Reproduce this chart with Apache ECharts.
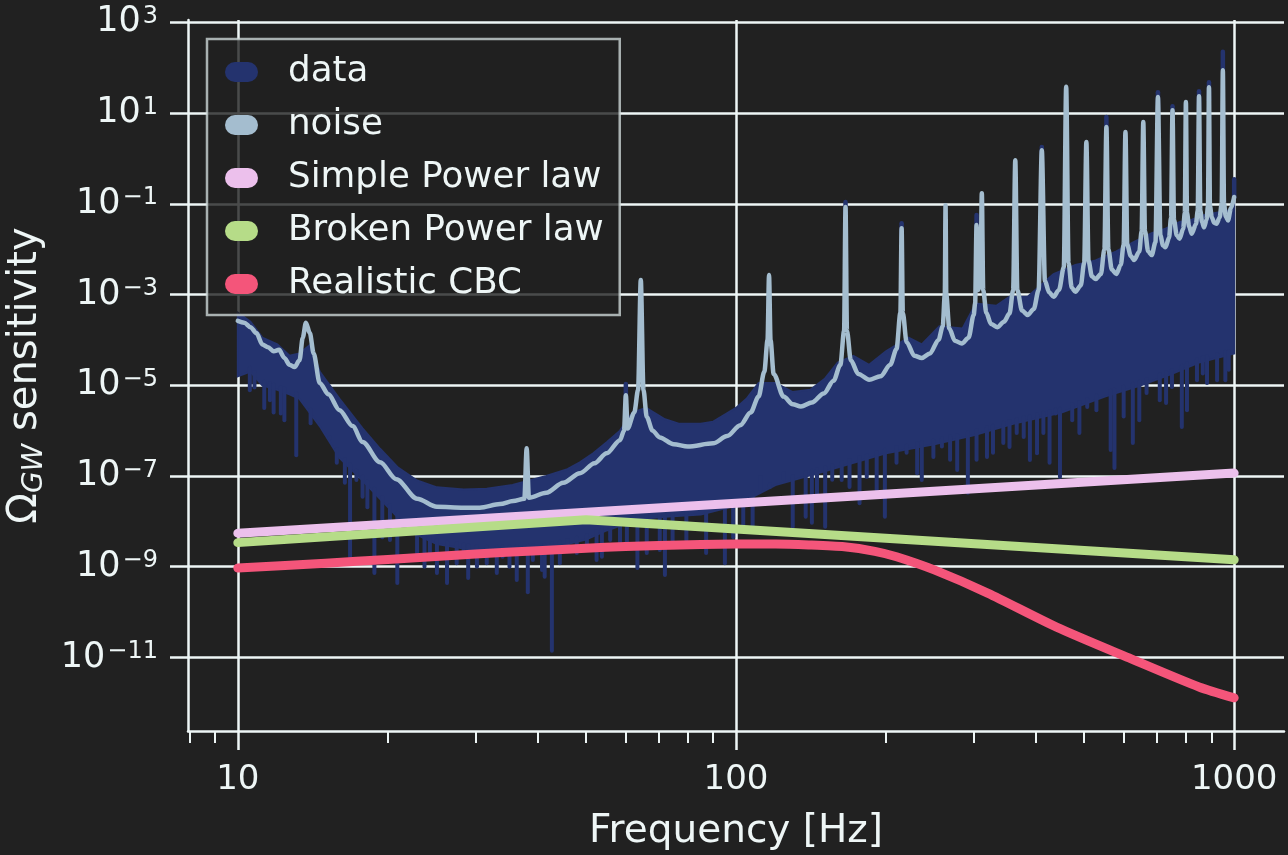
<!DOCTYPE html>
<html>
<head>
<meta charset="utf-8">
<script src="https://cdn.jsdelivr.net/npm/echarts@6/dist/echarts.min.js"></script>
<style>
html,body{margin:0;padding:0;background:#212121;}
#c{width:1288px;height:855px;}
</style>
</head>
<body>
<div id="c"></div>
<script>
// ---------------- values ----------------
// x tick marks (Hz)
const xMajorTicks = [10, 100, 1000];
const xTickLabels = ['10', '100', '1000'];
const xMinorTicks = [8, 9, 20, 30, 40, 50, 60, 70, 80, 90, 200, 300, 400, 500, 600, 700, 800, 900];
// y tick exponents (Omega = 10^e)
const yTickExponents = [-11, -9, -7, -5, -3, -1, 1, 3];

// noise curve (light blue)
const noiseFreq = [10.0,10.3,10.6,10.9,11.2,11.5,11.8,12.1,12.4,12.7,13.0,13.3,13.5,13.7,13.95,14.2,14.6,15.2,16.0,17.0,17.8,19.3,20.8,22.9,25.1,28.4,30.6,33.6,35.7,37.6,38.0,38.4,41.6,45.0,48.6,52.0,55.0,58.5,59.6,60.1,60.6,62.5,63.6,64.4,65.2,66.2,68.0,70.3,75.0,80.0,90.0,96.0,102,107,111,114,115.7,116.5,117.3,119,124.6,130,135,142,150,157,162,164.8,165.9,167,170,176,185,195,204,210,213.8,215,216.2,220,228,236,245,255,260,262.5,263.4,264.3,268,275,284,293,300,302,304,306.5,309.5,311.5,313.5,318,325,335,345,354,360,363.6,367,375,385,396,405,411,417,425,434,445,455,460,465,472,480,492,500,505,510,518,527,540,549,554,559,568,580,592,600,605,610,620,630,645,652,657,662,672,683,695,703,711,720,728,740,747,752,757,767,777,790,796,800,804,812,822,838,845,850,855,862,870,880,886,890,894,902,912,922,935,944,949,954,962,972,985,1000];
const noiseVal = [2.63e-4,2.40e-4,1.91e-4,1.41e-4,7.94e-5,6.92e-5,5.62e-5,6.03e-5,3.98e-5,2.82e-5,2.51e-5,3.55e-5,1.12e-4,2.40e-4,1.41e-4,5.01e-5,1.12e-5,6.31e-6,2.82e-6,1.26e-6,5.62e-7,2.00e-7,8.51e-8,3.16e-8,2.09e-8,2.00e-8,2.00e-8,2.40e-8,2.82e-8,3.16e-8,4.07e-7,3.31e-8,4.27e-8,7.08e-8,1.15e-7,1.91e-7,3.16e-7,6.17e-7,1.00e-6,6.03e-6,1.12e-6,2.51e-6,7.94e-6,2.09e-3,7.94e-6,2.00e-6,1.00e-6,7.08e-7,5.01e-7,4.47e-7,5.25e-7,7.59e-7,1.32e-6,2.51e-6,5.62e-6,2.00e-5,1.00e-4,2.69e-3,1.00e-4,1.78e-5,5.62e-6,3.80e-6,3.39e-6,4.17e-6,6.61e-6,1.26e-5,2.82e-5,1.58e-4,8.51e-2,1.58e-4,3.55e-5,1.78e-5,1.32e-5,1.58e-5,2.82e-5,6.31e-5,3.98e-4,2.88e-2,3.98e-4,8.91e-5,4.47e-5,3.98e-5,5.01e-5,1.00e-4,2.00e-4,1.00e-3,9.33e-2,1.00e-3,1.78e-4,9.55e-5,8.32e-5,1.12e-4,3.55e-4,6.31e-4,3.39e-2,1.26e-3,2.00e-3,1.70e-1,1.26e-3,3.98e-4,2.24e-4,1.91e-4,2.51e-4,3.80e-4,1.26e-3,9.12e-1,1.26e-3,4.47e-4,3.55e-4,4.79e-4,1.26e-3,1.51,2.00e-3,1.12e-3,8.91e-4,1.26e-3,3.98e-3,38.0,5.01e-3,1.41e-3,1.15e-3,1.58e-3,5.01e-3,2.29,5.62e-3,2.51e-3,2.19e-3,2.82e-3,1.00e-2,4.90,1.00e-2,3.55e-3,2.82e-3,4.47e-3,1.26e-2,3.80,1.26e-2,7.08e-3,5.75e-3,8.91e-3,2.51e-2,6.31,2.51e-2,8.91e-3,7.41e-3,1.41e-2,22.4,2.00e-2,1.20e-2,1.10e-2,1.78e-2,5.01e-2,11.5,4.47e-2,2.00e-2,1.70e-2,2.82e-2,6.31e-2,17.4,6.31e-2,3.16e-2,2.19e-2,3.55e-2,7.08e-2,23.4,7.08e-2,3.98e-2,3.02e-2,4.47e-2,8.91e-2,37.2,8.91e-2,5.01e-2,3.80e-2,3.63e-2,5.01e-2,1.00e-1,87.1,1.00e-1,5.25e-2,4.27e-2,7.94e-2,1.41e-1];

// data (dark blue): upper and lower edge of the dense band
const dataHighFreq = [10.0,10.6,11.2,12.0,12.7,13.3,14.0,14.6,16.0,17.8,19.3,20.9,22.9,25.1,28.4,31.6,35.6,41.6,45.9,48.6,51.7,55.1,58.5,62,66,72,77,85,90,95,100,105,111,120,130,141,151,160,172,185,200,222,236,256,285,303,333,354,385,434,480,527,580,627,683,728,778,822,869,922,972,1000];
const dataHighVal = [3.98e-4,2.51e-4,1.12e-4,7.94e-5,4.47e-5,5.01e-5,7.94e-5,2.00e-5,5.01e-6,1.12e-6,3.98e-7,1.58e-7,7.94e-8,5.62e-8,5.01e-8,5.25e-8,6.31e-8,1.00e-7,1.41e-7,2.00e-7,3.16e-7,5.62e-7,1.00e-6,2.51e-6,3.16e-6,1.78e-6,1.41e-6,1.41e-6,1.58e-6,2.24e-6,3.16e-6,5.01e-6,1.12e-5,1.12e-5,7.08e-6,7.94e-6,1.41e-5,3.16e-5,4.47e-5,2.82e-5,5.62e-5,1.12e-4,7.94e-5,2.00e-4,1.78e-4,6.31e-4,5.62e-4,8.91e-4,8.91e-4,2.82e-3,4.47e-3,5.62e-3,8.91e-3,1.41e-2,2.24e-2,2.82e-2,3.98e-2,4.47e-2,5.62e-2,6.31e-2,7.08e-2,1.00e-1];
const dataLowFreq = [10.0,10.6,11.2,12.0,12.7,13.3,14.6,16.0,17.8,19.3,20.9,22.9,25.1,28.4,31.6,35.6,41.6,45.9,50,55,58.5,63.4,72,85,100,120,150,200,250,300,360,450,550,650,750,850,1000];
const dataLowVal = [1.58e-5,2.00e-5,1.00e-5,7.94e-6,6.31e-6,5.01e-6,1.26e-6,2.51e-7,7.94e-8,3.16e-8,1.26e-8,5.01e-9,3.16e-9,2.51e-9,2.24e-9,2.24e-9,2.51e-9,3.16e-9,3.98e-9,6.31e-9,7.94e-9,1.12e-8,1.26e-8,1.41e-8,2.24e-8,6.31e-8,1.26e-7,3.16e-7,5.01e-7,7.94e-7,1.41e-6,2.51e-6,5.62e-6,1.00e-5,1.78e-5,3.16e-5,5.01e-5];
// data: downward spikes below the band
const dipFreq = [10.57,10.8,11.3,11.6,11.8,12.2,12.4,13.1,14.0,15.3,15.8,16.4,16.8,17.3,17.8,18.2,18.8,19.5,20.2,20.9,21.8,22.9,23.7,24.3,25.1,26.3,27.5,28.4,29.0,30.2,31.6,33.1,34.0,35.1,36.3,38.2,39.1,40.8,41.3,42.7,44.3,45.9,47.9,50.2,52.5,53.8,55.9,58.5,60.4,63.4,66.2,70.3,72,74.6,79.5,87.1,95,98.7,103.4,108,112,117,124.6,130,138,142,145.4,151,156,163,169,177,183,191.6,199,210,220,231,236,249,259,269,278,292,304,319,328,344,354,366,378,389,402,414,426,438,447,473,489,507,529,565,575,600,626,645,667,709,730,750,785,804,842,865,882,924,960,975];
const dipVal = [7.76e-6,8.91e-6,3.16e-6,4.68e-6,2.51e-6,2.40e-6,1.70e-6,2.88e-7,1.45e-6,7.24e-7,1.95e-7,7.08e-8,1.66e-9,8.13e-8,3.47e-8,2.04e-8,7.24e-10,4.47e-9,3.89e-9,4.37e-10,5.50e-9,2.00e-9,1.00e-9,2.00e-9,7.24e-10,4.37e-10,1.20e-9,1.66e-9,5.62e-10,1.00e-9,1.20e-9,7.24e-10,1.66e-9,1.00e-9,5.13e-10,2.75e-10,1.41e-9,8.51e-10,6.03e-10,1.41e-11,1.20e-9,2.75e-9,2.00e-9,3.31e-9,1.41e-9,1.66e-9,3.89e-9,3.31e-9,2.75e-9,9.33e-10,2.00e-9,2.34e-9,6.61e-10,2.75e-9,3.89e-9,2.00e-9,1.20e-9,4.47e-9,6.46e-9,7.59e-9,9.55e-8,5.75e-8,1.15e-7,7.59e-9,1.26e-8,9.33e-9,3.02e-8,7.59e-9,8.32e-8,8.13e-8,5.75e-8,2.51e-8,9.55e-8,5.01e-8,1.26e-8,1.95e-7,3.24e-7,1.15e-7,8.13e-8,2.63e-7,4.47e-7,2.29e-7,1.35e-7,4.27e-8,2.29e-7,2.63e-7,3.24e-7,5.37e-7,4.37e-7,8.91e-7,7.24e-7,2.24e-7,3.16e-7,8.91e-7,1.95e-7,2.40e-6,9.55e-8,1.70e-6,8.91e-7,3.31e-6,2.82e-6,3.72e-7,1.51e-7,2.04e-6,5.37e-7,1.70e-6,6.76e-6,4.68e-6,4.07e-6,9.12e-6,1.20e-6,2.82e-6,1.29e-5,1.82e-5,1.12e-5,1.29e-5,1.29e-5,2.19e-5];
// data: tops of the line peaks that rise above the noise peaks
const tipFreq = [60.1,165.9,215,304,411,554,703,752,850,890,949,1000];
const tipVal = [1.07e-5,1.10e-1,3.72e-2,5.62e-2,1.78,8.13,28.8,14.1,30.2,47.9,224,3.47e-1];

// model curves
const simpleFreq = [10, 100, 1000];
const simpleVal = [5.5e-9, 2.5e-8, 1.16e-7];
const brokenFreq = [10, 50, 1000];
const brokenVal = [3.4e-9, 1.08e-8, 1.42e-9];
const cbcFreq = [10,15,20,30,40,50,60,70,85,100,120,140,165,190,210,250,320,440,615,850,1000];
const cbcVal = [9.33e-10,1.20e-9,1.45e-9,1.91e-9,2.26e-9,2.57e-9,2.79e-9,2.95e-9,3.09e-9,3.16e-9,3.16e-9,3.02e-9,2.75e-9,2.19e-9,1.66e-9,8.51e-10,2.63e-10,4.68e-11,9.77e-12,2.24e-12,1.29e-12];

// ---------------- chart ----------------
const C = {
  bg: '#212121', fg: '#eef6f6',
  data: '#24336e', noise: '#a4bdcf', simple: '#ecc0ec', broken: '#b6dc88', cbc: '#f4557a'
};
const lg = Math.log10;
const toPts = (fs, vs) => fs.map((f, i) => [lg(f), lg(vs[i])]);
const highPts = toPts(dataHighFreq, dataHighVal);
const lowPts = toPts(dataLowFreq, dataLowVal);

function edgeAt(pts, x) {
  if (x <= pts[0][0]) return pts[0][1];
  for (let i = 1; i < pts.length; i++) {
    if (x <= pts[i][0]) {
      const t = (x - pts[i - 1][0]) / (pts[i][0] - pts[i - 1][0]);
      return pts[i - 1][1] + t * (pts[i][1] - pts[i - 1][1]);
    }
  }
  return pts[pts.length - 1][1];
}

const capsule = 'path://M10 0 L23 0 A10 10 0 0 1 23 20 L10 20 A10 10 0 0 1 10 0 Z';
const FONT = 'DejaVu Sans';

const chart = echarts.init(document.getElementById('c'), null, { renderer: 'canvas' });
chart.setOption({
  animation: false,
  backgroundColor: C.bg,
  textStyle: { fontFamily: FONT, color: C.fg },
  grid: { left: 188, right: 4, top: 20, bottom: 124, containLabel: false, outerBoundsMode: 'none' },
  legend: {
    orient: 'vertical', left: 207, top: 39,
    padding: [15, 16, 13, 18], itemGap: 17, itemWidth: 33, itemHeight: 20,
    icon: capsule, selectedMode: false,
    backgroundColor: 'rgba(33,33,33,0.8)',
    borderColor: 'rgba(204,214,214,0.8)', borderWidth: 2.5, borderRadius: 0,
    textStyle: { color: C.fg, fontSize: 35.7, fontFamily: FONT, lineHeight: 34, padding: [0, 0, 0, 25] },
    data: [
      { name: 'data', itemStyle: { color: C.data } },
      { name: 'noise', itemStyle: { color: C.noise } },
      { name: 'Simple Power law', itemStyle: { color: C.simple } },
      { name: 'Broken Power law', itemStyle: { color: C.broken } },
      { name: 'Realistic CBC', itemStyle: { color: C.cbc } }
    ]
  },
  xAxis: [
    {
      type: 'value', min: 0.9, max: 3.1, position: 'bottom',
      name: 'Frequency [Hz]', nameLocation: 'middle', nameGap: 79,
      nameTextStyle: { fontSize: 39, color: C.fg, fontFamily: FONT, lineHeight: 44 },
      axisLine: { show: true, onZero: false, lineStyle: { color: C.fg, width: 2.5 } },
      axisTick: { show: true, length: 19, lineStyle: { color: C.fg, width: 2.5 }, customValues: xMajorTicks.map(lg) },
      axisLabel: {
        show: true, color: C.fg, fontSize: 34, fontFamily: FONT, lineHeight: 34, margin: 32,
        customValues: xMajorTicks.map(lg),
        formatter: v => xTickLabels[xMajorTicks.findIndex(t => Math.abs(lg(t) - v) < 1e-6)] || ''
      },
      splitLine: { show: true, lineStyle: { color: C.fg, width: 2.5 } }
    },
    {
      type: 'value', min: 0.9, max: 3.1, position: 'bottom',
      axisLine: { show: false, onZero: false },
      axisTick: { show: true, length: 12, lineStyle: { color: C.fg, width: 2 }, customValues: xMinorTicks.map(lg) },
      axisLabel: { show: false },
      splitLine: { show: false }
    }
  ],
  yAxis: {
    type: 'value', min: -12.62, max: 3.05,
    name: '{t|Ω}{sub|GW}{t| sensitivity}', nameLocation: 'middle', nameGap: 139, nameRotate: 90,
    nameTextStyle: {
      color: C.fg, fontFamily: FONT,
      rich: {
        t: { fontSize: 40, lineHeight: 46, color: C.fg, fontFamily: FONT },
        sub: { fontSize: 28, lineHeight: 26, verticalAlign: 'bottom', fontStyle: 'italic', color: C.fg, fontFamily: FONT }
      }
    },
    axisLine: { show: true, onZero: false, lineStyle: { color: C.fg, width: 2.5 } },
    axisTick: { show: true, length: 18, lineStyle: { color: C.fg, width: 2.5 }, customValues: yTickExponents },
    axisLabel: {
      show: true, margin: 30, customValues: yTickExponents,
      formatter: v => {
        const e = Math.round(v);
        return '{b|10}{s|' + (e < 0 ? '\u2212' + Math.abs(e) : String(e)) + '}';
      },
      rich: {
        b: { fontSize: 35, lineHeight: 35, color: C.fg, fontFamily: FONT },
        s: { fontSize: 24, lineHeight: 19, verticalAlign: 'top', color: C.fg, fontFamily: FONT, padding: [0, 0, 0, 2] }
      }
    },
    splitLine: { show: true, lineStyle: { color: C.fg, width: 2.5 } }
  },
  series: [
    {
      name: 'data', type: 'custom', clip: true, encode: { x: 0, y: 1 },
      data: highPts,
      renderItem: (params, api) => {
        if (params.dataIndex !== 0) return null;
        const pts = highPts.map(p => api.coord(p)).concat(lowPts.slice().reverse().map(p => api.coord(p)));
        return { type: 'polygon', shape: { points: pts }, style: { fill: C.data, stroke: C.data, lineWidth: 2 } };
      }
    },
    {
      name: 'data', type: 'custom', clip: true, encode: { x: 0, y: 1 },
      data: toPts(dipFreq, dipVal),
      renderItem: (params, api) => {
        const x = api.value(0), y = api.value(1);
        const p = api.coord([x, y]);
        const q = api.coord([x, edgeAt(lowPts, x)]);
        return { type: 'line', shape: { x1: p[0], y1: q[1] - 4, x2: p[0], y2: p[1] }, style: { stroke: C.data, lineWidth: 4, lineCap: 'round' } };
      }
    },
    {
      name: 'data', type: 'custom', clip: true, encode: { x: 0, y: 1 },
      data: toPts(tipFreq, tipVal),
      renderItem: (params, api) => {
        const p = api.coord([api.value(0), api.value(1)]);
        return { type: 'line', shape: { x1: p[0], y1: p[1], x2: p[0], y2: p[1] + 18 }, style: { stroke: C.data, lineWidth: 4.5, lineCap: 'round' } };
      }
    },
    {
      name: 'noise', type: 'line', data: toPts(noiseFreq, noiseVal),
      showSymbol: false, symbol: 'none', smooth: 0.3, smoothMonotone: 'x', color: C.noise,
      lineStyle: { color: C.noise, width: 4.5, cap: 'round', join: 'round' }
    },
    {
      name: 'Simple Power law', type: 'line', data: toPts(simpleFreq, simpleVal),
      showSymbol: false, symbol: 'none', color: C.simple,
      lineStyle: { color: C.simple, width: 9, cap: 'round', join: 'round' }
    },
    {
      name: 'Broken Power law', type: 'line', data: toPts(brokenFreq, brokenVal),
      showSymbol: false, symbol: 'none', color: C.broken,
      lineStyle: { color: C.broken, width: 9, cap: 'round', join: 'round' }
    },
    {
      name: 'Realistic CBC', type: 'line', data: toPts(cbcFreq, cbcVal),
      showSymbol: false, symbol: 'none', smooth: 0.25, color: C.cbc,
      lineStyle: { color: C.cbc, width: 9, cap: 'round', join: 'round' }
    }
  ]
});
</script>
</body>
</html>
